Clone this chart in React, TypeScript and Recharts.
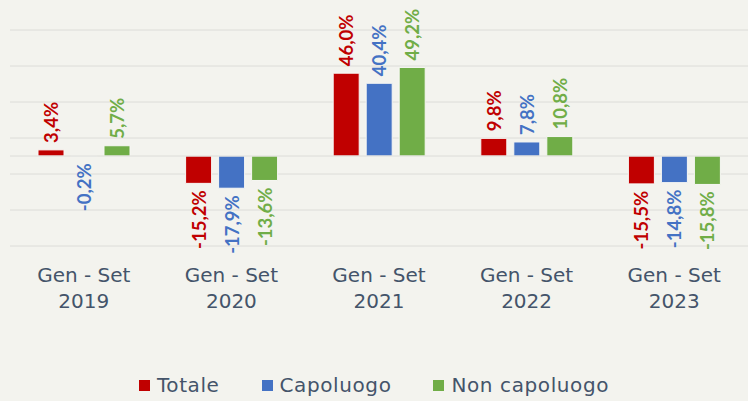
import { BarChart, Bar, XAxis, YAxis, CartesianGrid, ReferenceLine, LabelList, Legend } from 'recharts';

const CATEGORIES = ['2019', '2020', '2021', '2022', '2023'];
const TOTALE = [3.4, -15.2, 46.0, 9.8, -15.5];
const CAPOLUOGO = [-0.2, -17.9, 40.4, 7.8, -14.8];
const NON_CAPOLUOGO = [5.7, -13.6, 49.2, 10.8, -15.8];
const Y_TICKS = [-50, -30, -10, 10, 30, 50, 70];

const SERIES = [
  { key: 'totale', name: 'Totale', color: '#c00000' },
  { key: 'capoluogo', name: 'Capoluogo', color: '#4472c4' },
  { key: 'nonCapoluogo', name: 'Non capoluogo', color: '#70ad47' },
];

const TEXT_COLOR = '#44546a';
const FONT = '"DejaVu Sans", sans-serif';
const LABEL_FONT = 'Lato, "DejaVu Sans", sans-serif';

const data = CATEGORIES.map((year, i) => ({
  year,
  totale: TOTALE[i],
  capoluogo: CAPOLUOGO[i],
  nonCapoluogo: NON_CAPOLUOGO[i],
}));

const fmt = (v: number) => `${v.toFixed(1).replace('.', ',')}%`;

function makeLabel(color: string) {
  return (props: any) => {
    const { x, y, width, height, value } = props;
    const v = Number(value);
    const cx = Number(x) + Number(width) / 2;
    const top = Math.min(Number(y), Number(y) + Number(height));
    const bottom = Math.max(Number(y), Number(y) + Number(height));
    const ty = v >= 0 ? top - 7 : bottom + 7;
    return (
      <text
        x={cx}
        y={ty}
        transform={`rotate(-90 ${cx} ${ty})`}
        textAnchor={v >= 0 ? 'start' : 'end'}
        dominantBaseline="central"
        fill={color}
        fontFamily={LABEL_FONT}
        fontWeight="bold"
        fontSize={18.5}
      >
        {fmt(v)}
      </text>
    );
  };
}

function YearTick(props: any) {
  const { x, y, payload } = props;
  return (
    <text x={x} y={y} textAnchor="middle" fill={TEXT_COLOR} fontFamily={FONT} fontSize={20}>
      <tspan x={x} dy={36}>Gen - Set</tspan>
      <tspan x={x} dy={26}>{payload.value}</tspan>
    </text>
  );
}

function LegendContent() {
  return (
    <div style={{ display: 'flex', justifyContent: 'center', gap: 42, fontFamily: FONT, fontSize: 20, letterSpacing: 0.6, color: TEXT_COLOR }}>
      {SERIES.map(s => (
        <div key={s.key} style={{ display: 'flex', alignItems: 'center' }}>
          <span style={{ width: 11, height: 11, background: s.color, marginRight: 7, display: 'inline-block' }} />
          <span>{s.name}</span>
        </div>
      ))}
    </div>
  );
}

export default function App() {
  return (
    <div style={{ width: 748, height: 401, background: '#f3f3ee' }}>
      <style>{'body{margin:0}'}</style>
      <BarChart
        width={748}
        height={401}
        data={data}
        margin={{ top: 30, right: 0, bottom: 0, left: 10 }}
        barSize={26}
        barGap={7}
      >
        <CartesianGrid vertical={false} stroke="#dcdcd8" />
        <YAxis hide domain={[-50, 70]} ticks={Y_TICKS} />
        <XAxis
          dataKey="year"
          height={155}
          axisLine={false}
          tickLine={false}
          tickSize={0}
          tickMargin={0}
          tick={<YearTick />}
          interval={0}
        />
        <ReferenceLine y={0} stroke="#dcdcd8" />
        <Legend
          verticalAlign="middle"
          layout="horizontal"
          wrapperStyle={{ top: 373, left: 0, width: 748 }}
          content={<LegendContent />}
        />
        {SERIES.map(s => (
          <Bar key={s.key} dataKey={s.key} name={s.name} fill={s.color} stroke="#f7f7f4" strokeWidth={1} isAnimationActive={false}>
            <LabelList dataKey={s.key} content={makeLabel(s.color)} />
          </Bar>
        ))}
      </BarChart>
    </div>
  );
}
